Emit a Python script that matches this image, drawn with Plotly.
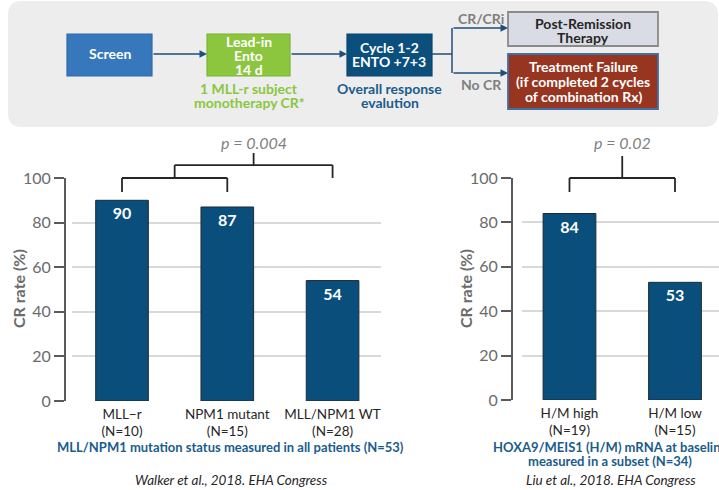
import plotly.graph_objects as go

W, H = 719, 490

# ---------------- data ----------------
left_categories = ["MLL−r", "NPM1 mutant", "MLL/NPM1 WT"]
left_n = [10, 15, 28]
left_cr = [90, 87, 54]
right_categories = ["H/M high", "H/M low"]
right_n = [19, 15]
right_cr = [84, 53]
y_ticks = [0, 20, 40, 60, 80, 100]
p_left = "p = 0.004"
p_right = "p = 0.02"
left_subtitle = "MLL/NPM1 mutation status measured in all patients (N=53)"
right_subtitle = ["HOXA9/MEIS1 (H/M) mRNA at baseline", "measured in a subset (N=34)"]
left_source = "Walker et al., 2018. EHA Congress"
right_source = "Liu et al., 2018. EHA Congress"

# ---------------- style ----------------
FONT = "Lato"
BAR = "#0a4e7b"
BAR_LINE = "#1c2b36"
GRID = "#d9d9d9"
AXIS = "#5a5a5a"
TICKTXT = "#6b6b6b"
DARKTXT = "#262626"
NAVYTXT = "#1b5c8c"
ARROW = "#1f4e79"


def px(x):
    return x / W


def py(y):
    return 1 - y / H


def labels(cats, ns):
    return [f"{c}<br>(N={n})" for c, n in zip(cats, ns)]


left_x = labels(left_categories, left_n)
right_x = labels(right_categories, right_n)

fig = go.Figure()

for xs, ys, xa, ya in [(left_x, left_cr, "x", "y"), (right_x, right_cr, "x2", "y2")]:
    fig.add_trace(go.Bar(
        x=xs, y=ys, xaxis=xa, yaxis=ya, width=0.5,
        marker=dict(color=BAR, line=dict(color=BAR_LINE, width=1)),
        text=[str(v) for v in ys], textposition="inside", insidetextanchor="end",
        textangle=0, textfont=dict(family=FONT, size=16, color="white", weight="bold"),
        hoverinfo="skip", showlegend=False,
    ))

# geometry of the two charts (pixels)
L_Y0, L_Y100 = 401, 178
R_Y0, R_Y100 = 400, 178
L_RANGE = [-0.475, 2.46]
R_RANGE = [-0.45, 1.417]
TOP_PX = 120

common_y = dict(
    range=[0, 100], tickvals=y_ticks, showgrid=True, gridcolor=GRID, gridwidth=1.5,
    zeroline=False, showline=True, linecolor=AXIS, linewidth=2, ticks="outside",
    ticklen=10, tickwidth=2, tickcolor=AXIS, anchor="free", automargin=False,
    tickfont=dict(family=FONT, size=16, color=TICKTXT), fixedrange=True,
)
common_x = dict(
    type="category", showgrid=False, zeroline=False, showline=False, ticks="",
    automargin=False, ticklabelstandoff=3,
    tickfont=dict(family=FONT, size=13.5, color=DARKTXT), fixedrange=True,
)

fig.update_layout(
    width=W, height=H, margin=dict(l=0, r=0, t=0, b=0, pad=0, autoexpand=False),
    paper_bgcolor="white", plot_bgcolor="rgba(0,0,0,0)",
    font=dict(family=FONT),
    xaxis=dict(domain=[px(72), px(381)], range=L_RANGE, anchor="y", **common_x),
    yaxis=dict(domain=[py(L_Y0), py(L_Y100)], position=px(65), **common_y),
    xaxis2=dict(domain=[px(522), 1.0], range=R_RANGE, anchor="y2", **common_x),
    yaxis2=dict(domain=[py(R_Y0), py(R_Y100)], position=px(512), **common_y),
    # invisible overlays with same data scale for the significance brackets
    xaxis3=dict(domain=[px(72), px(381)], range=L_RANGE, visible=False, anchor="y3"),
    yaxis3=dict(domain=[py(L_Y0), py(TOP_PX)],
                range=[0, (L_Y0 - TOP_PX) / (L_Y0 - L_Y100) * 100], visible=False, anchor="x3"),
    xaxis4=dict(domain=[px(522), 1.0], range=R_RANGE, visible=False, anchor="y4"),
    yaxis4=dict(domain=[py(R_Y0), py(TOP_PX)],
                range=[0, (R_Y0 - TOP_PX) / (R_Y0 - R_Y100) * 100], visible=False, anchor="x4"),
)

# dummy invisible traces so overlay axes exist
fig.add_trace(go.Scatter(x=[0], y=[0], xaxis="x3", yaxis="y3", mode="markers",
                         marker=dict(opacity=0), hoverinfo="skip", showlegend=False))
fig.add_trace(go.Scatter(x=[0], y=[0], xaxis="x4", yaxis="y4", mode="markers",
                         marker=dict(opacity=0), hoverinfo="skip", showlegend=False))

shapes = []
annotations = []

# ---------- significance brackets ----------
BR = dict(color="#262626", width=1.8)


def seg(xr, yr, x0, y0, x1, y1):
    shapes.append(dict(type="line", xref=xr, yref=yr, x0=x0, y0=y0, x1=x1, y1=y1, line=BR))


# left: MLL-r vs NPM1, then (combined) vs WT
seg("x3", "y3", 0, 93.7, 0, 100)
seg("x3", "y3", 1, 93.7, 1, 100)
seg("x3", "y3", 0, 100, 1, 100)
seg("x3", "y3", 0.5, 100, 0.5, 105.8)
seg("x3", "y3", 0.5, 105.8, 2, 105.8)
seg("x3", "y3", 2, 105.8, 2, 100)
seg("x3", "y3", 1.25, 105.8, 1.25, 111.2)
annotations.append(dict(x=1.25, y=115.9, xref="x3", yref="y3", text=f"<i>{p_left}</i>",
                        showarrow=False, font=dict(family=FONT, size=16, color="#7f7f7f")))
# right
seg("x4", "y4", 0, 93.7, 0, 100)
seg("x4", "y4", 1, 93.7, 1, 100)
seg("x4", "y4", 0, 100, 1, 100)
seg("x4", "y4", 0.5, 100, 0.5, 109.9)
annotations.append(dict(x=0.5, y=115.8, xref="x4", yref="y4", text=f"<i>{p_right}</i>",
                        showarrow=False, font=dict(family=FONT, size=16, color="#7f7f7f")))


def text_lines(lines, cx, cy, lh, size, color, bold=False, italic=False):
    for i, t in enumerate(lines):
        s = t
        if bold:
            s = f"<b>{s}</b>"
        if italic:
            s = f"<i>{s}</i>"
        annotations.append(dict(x=px(cx), y=py(cy + i * lh), xref="paper", yref="paper",
                                text=s, showarrow=False, xanchor="center", yanchor="middle",
                                font=dict(family=FONT, size=size, color=color)))


# y axis titles
for cx in (18, 465):
    annotations.append(dict(x=px(cx), y=py(289), xref="paper", yref="paper",
                            text="<b>CR rate (%)</b>", textangle=-90, showarrow=False,
                            xanchor="center", yanchor="middle",
                            font=dict(family=FONT, size=16, color="#6b6b6b")))

# subtitles and sources
text_lines([left_subtitle], 230.5, 447, 14, 13, NAVYTXT, bold=True)
text_lines(right_subtitle, 609.5, 447, 14, 13, NAVYTXT, bold=True)
text_lines([left_source], 232, 480, 14, 13.5, DARKTXT, italic=True)
text_lines([right_source], 611, 480, 14, 13.5, DARKTXT, italic=True)

# ---------- flowchart panel ----------


def rounded_path(x0, y0, x1, y1, r):
    X = lambda v: px(v)
    Y = lambda v: py(v)
    return (f"M {X(x0 + r)} {Y(y0)} L {X(x1 - r)} {Y(y0)} Q {X(x1)} {Y(y0)} {X(x1)} {Y(y0 + r)} "
            f"L {X(x1)} {Y(y1 - r)} Q {X(x1)} {Y(y1)} {X(x1 - r)} {Y(y1)} "
            f"L {X(x0 + r)} {Y(y1)} Q {X(x0)} {Y(y1)} {X(x0)} {Y(y1 - r)} "
            f"L {X(x0)} {Y(y0 + r)} Q {X(x0)} {Y(y0)} {X(x0 + r)} {Y(y0)} Z")


shapes.append(dict(type="path", xref="paper", yref="paper", path=rounded_path(8, 1, 718, 127, 14),
                   fillcolor="#ededed", line=dict(width=0), layer="below"))


def box(x0, y0, x1, y1, fill, line, lw=1.2):
    shapes.append(dict(type="rect", xref="paper", yref="paper", x0=px(x0), x1=px(x1),
                       y0=py(y1), y1=py(y0), fillcolor=fill, line=dict(color=line, width=lw)))


box(67, 34, 152, 76, "#3777bc", "#2f6aa6")
box(207, 34, 290, 76, "#8cc63f", "#7cb437")
box(347, 34, 432, 76, "#0b4f7c", "#0a4470")
box(508, 12, 658, 46, "#d9dce4", "#8a8a8a", 1.8)
box(508, 54, 658, 109, "#983521", "#3f6fa3", 1.8)

FS = 14
text_lines(["Screen"], 109.5, 54, 14, FS, "white", bold=True)
text_lines(["Lead-in", "Ento", "14 d"], 248.5, 41, 14, FS, "white", bold=True)
text_lines(["Cycle 1-2", "ENTO +7+3"], 389.5, 47.5, 14.5, FS, "white", bold=True)
text_lines(["1 MLL-r subject", "monotherapy CR*"], 249, 89, 13.5, FS, "#8cc63f", bold=True)
text_lines(["Overall response", "evalution"], 390, 89, 13.5, FS, NAVYTXT, bold=True)
text_lines(["CR/CRi"], 481, 18, 14, FS, "#7f7f7f", bold=True)
text_lines(["No CR"], 481, 85, 14, FS, "#7f7f7f", bold=True)
text_lines(["Post-Remission", "Therapy"], 583, 23, 14, FS, DARKTXT, bold=True)
text_lines(["Treatment Failure", "(if completed 2 cycles", "of combination Rx)"], 583, 67, 14.5, FS,
           "white", bold=True)

# connectors
for (x0, y0, x1, y1) in [(432, 54, 452, 54), (452, 28, 452, 73)]:
    shapes.append(dict(type="line", xref="paper", yref="paper", x0=px(x0), y0=py(y0),
                       x1=px(x1), y1=py(y1), line=dict(color=ARROW, width=1.5)))


def arrow(x0, y, x1):
    annotations.append(dict(x=px(x1), y=py(y), xref="paper", yref="paper", ax=x0 - x1, ay=0,
                            axref="pixel", ayref="pixel", text="", showarrow=True,
                            arrowhead=2, arrowsize=1, arrowwidth=1.5, arrowcolor=ARROW))


arrow(152, 54, 207)
arrow(290, 54, 347)
arrow(452, 28, 508)
arrow(452, 73, 508)

fig.update_layout(shapes=shapes, annotations=annotations)
fig.write_html(
    "out.html",
    config={"displayModeBar": False},
    post_script="document.body.style.margin='0';document.body.style.overflow='hidden';",
)
